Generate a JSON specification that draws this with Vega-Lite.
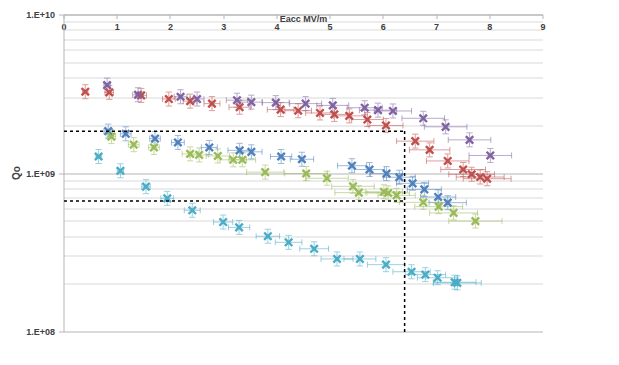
{
  "$schema": "https://vega.github.io/schema/vega-lite/v6.json",
  "width": 479,
  "height": 317,
  "autosize": {"type": "none"},
  "padding": {"left": 64, "top": 15, "right": 76, "bottom": 33},
  "background": "white",
  "config": {
    "view": {"stroke": null},
    "font": "Liberation Sans",
    "axis": {"labelFont": "Liberation Sans", "titleFont": "Liberation Sans", "labelColor": "#404040", "titleColor": "#404040", "domainColor": "#b5b5b5", "tickColor": "#b5b5b5"}
  },
  "datasets": {
    "pts": [
      {"s":"Bake 4K","x":0.83,"q":1.85e9,"xl":0.75,"xh":0.91},
      {"s":"Bake 4K","x":1.16,"q":1.78e9,"xl":1.06,"xh":1.26},
      {"s":"Bake 4K","x":1.71,"q":1.66e9,"xl":1.61,"xh":1.81},
      {"s":"Bake 4K","x":2.14,"q":1.57e9,"xl":2.02,"xh":2.26},
      {"s":"Bake 4K","x":2.73,"q":1.46e9,"xl":2.58,"xh":2.88},
      {"s":"Bake 4K","x":3.30,"q":1.40e9,"xl":3.08,"xh":3.52},
      {"s":"Bake 4K","x":3.52,"q":1.37e9,"xl":3.32,"xh":3.72},
      {"s":"Bake 4K","x":4.08,"q":1.28e9,"xl":3.88,"xh":4.28},
      {"s":"Bake 4K","x":4.47,"q":1.23e9,"xl":4.25,"xh":4.69},
      {"s":"Bake 4K","x":5.41,"q":1.12e9,"xl":5.14,"xh":5.68},
      {"s":"Bake 4K","x":5.74,"q":1.06e9,"xl":5.46,"xh":6.02},
      {"s":"Bake 4K","x":6.06,"q":9.98e8,"xl":5.76,"xh":6.36},
      {"s":"Bake 4K","x":6.30,"q":9.47e8,"xl":6.00,"xh":6.60},
      {"s":"Bake 4K","x":6.55,"q":8.67e8,"xl":6.25,"xh":6.85},
      {"s":"Bake 4K","x":6.77,"q":7.94e8,"xl":6.45,"xh":7.09},
      {"s":"Bake 4K","x":7.03,"q":7.11e8,"xl":6.70,"xh":7.36},
      {"s":"Bake 4K","x":7.21,"q":6.55e8,"xl":6.86,"xh":7.56},
      {"s":"Bake 2K","x":0.40,"q":3.28e9,"xl":0.35,"xh":0.45},
      {"s":"Bake 2K","x":0.85,"q":3.25e9,"xl":0.77,"xh":0.93},
      {"s":"Bake 2K","x":1.45,"q":3.11e9,"xl":1.35,"xh":1.55},
      {"s":"Bake 2K","x":1.97,"q":2.95e9,"xl":1.85,"xh":2.09},
      {"s":"Bake 2K","x":2.37,"q":2.86e9,"xl":2.24,"xh":2.50},
      {"s":"Bake 2K","x":2.78,"q":2.76e9,"xl":2.63,"xh":2.93},
      {"s":"Bake 2K","x":3.30,"q":2.62e9,"xl":3.10,"xh":3.50},
      {"s":"Bake 2K","x":4.07,"q":2.53e9,"xl":3.82,"xh":4.32},
      {"s":"Bake 2K","x":4.40,"q":2.49e9,"xl":4.15,"xh":4.65},
      {"s":"Bake 2K","x":4.81,"q":2.41e9,"xl":4.54,"xh":5.08},
      {"s":"Bake 2K","x":5.08,"q":2.36e9,"xl":4.80,"xh":5.36},
      {"s":"Bake 2K","x":5.36,"q":2.31e9,"xl":5.06,"xh":5.66},
      {"s":"Bake 2K","x":5.70,"q":2.19e9,"xl":5.40,"xh":6.00},
      {"s":"Bake 2K","x":6.05,"q":2.01e9,"xl":5.73,"xh":6.37},
      {"s":"Bake 2K","x":6.60,"q":1.60e9,"xl":6.25,"xh":6.95},
      {"s":"Bake 2K","x":6.87,"q":1.41e9,"xl":6.49,"xh":7.25},
      {"s":"Bake 2K","x":7.21,"q":1.20e9,"xl":6.81,"xh":7.61},
      {"s":"Bake 2K","x":7.50,"q":1.06e9,"xl":7.08,"xh":7.92},
      {"s":"Bake 2K","x":7.66,"q":9.89e8,"xl":7.23,"xh":8.09},
      {"s":"Bake 2K","x":7.82,"q":9.50e8,"xl":7.37,"xh":8.27},
      {"s":"Bake 2K","x":7.95,"q":9.27e8,"xl":7.50,"xh":8.40},
      {"s":"Initial 4K","x":0.89,"q":1.71e9,"xl":0.81,"xh":0.97},
      {"s":"Initial 4K","x":1.31,"q":1.52e9,"xl":1.21,"xh":1.41},
      {"s":"Initial 4K","x":1.69,"q":1.46e9,"xl":1.59,"xh":1.79},
      {"s":"Initial 4K","x":2.37,"q":1.33e9,"xl":2.22,"xh":2.52},
      {"s":"Initial 4K","x":2.54,"q":1.31e9,"xl":2.36,"xh":2.72},
      {"s":"Initial 4K","x":2.89,"q":1.29e9,"xl":2.67,"xh":3.11},
      {"s":"Initial 4K","x":3.18,"q":1.22e9,"xl":2.93,"xh":3.43},
      {"s":"Initial 4K","x":3.35,"q":1.22e9,"xl":3.10,"xh":3.60},
      {"s":"Initial 4K","x":3.78,"q":1.02e9,"xl":3.43,"xh":4.13},
      {"s":"Initial 4K","x":4.55,"q":1.00e9,"xl":4.15,"xh":4.95},
      {"s":"Initial 4K","x":4.94,"q":9.33e8,"xl":4.54,"xh":5.34},
      {"s":"Initial 4K","x":5.43,"q":8.30e8,"xl":5.03,"xh":5.83},
      {"s":"Initial 4K","x":5.54,"q":7.57e8,"xl":5.09,"xh":5.99},
      {"s":"Initial 4K","x":6.01,"q":7.67e8,"xl":5.66,"xh":6.36},
      {"s":"Initial 4K","x":6.09,"q":7.54e8,"xl":5.69,"xh":6.49},
      {"s":"Initial 4K","x":6.25,"q":7.28e8,"xl":5.90,"xh":6.60},
      {"s":"Initial 4K","x":6.75,"q":6.58e8,"xl":6.30,"xh":7.20},
      {"s":"Initial 4K","x":7.04,"q":6.18e8,"xl":6.59,"xh":7.49},
      {"s":"Initial 4K","x":7.32,"q":5.64e8,"xl":6.87,"xh":7.77},
      {"s":"Initial 4K","x":7.73,"q":5.01e8,"xl":7.23,"xh":8.23},
      {"s":"Initial 2K","x":0.81,"q":3.61e9,"xl":0.75,"xh":0.87},
      {"s":"Initial 2K","x":1.39,"q":3.14e9,"xl":1.29,"xh":1.49},
      {"s":"Initial 2K","x":2.19,"q":3.05e9,"xl":2.07,"xh":2.31},
      {"s":"Initial 2K","x":2.50,"q":2.95e9,"xl":2.37,"xh":2.63},
      {"s":"Initial 2K","x":3.25,"q":2.90e9,"xl":3.05,"xh":3.45},
      {"s":"Initial 2K","x":3.52,"q":2.82e9,"xl":3.32,"xh":3.72},
      {"s":"Initial 2K","x":3.98,"q":2.80e9,"xl":3.73,"xh":4.23},
      {"s":"Initial 2K","x":4.54,"q":2.76e9,"xl":4.24,"xh":4.84},
      {"s":"Initial 2K","x":5.05,"q":2.69e9,"xl":4.75,"xh":5.35},
      {"s":"Initial 2K","x":5.65,"q":2.60e9,"xl":5.32,"xh":5.98},
      {"s":"Initial 2K","x":5.90,"q":2.51e9,"xl":5.55,"xh":6.25},
      {"s":"Initial 2K","x":6.18,"q":2.48e9,"xl":5.83,"xh":6.53},
      {"s":"Initial 2K","x":6.75,"q":2.23e9,"xl":6.35,"xh":7.15},
      {"s":"Initial 2K","x":7.17,"q":1.97e9,"xl":6.77,"xh":7.57},
      {"s":"Initial 2K","x":7.62,"q":1.63e9,"xl":7.22,"xh":8.02},
      {"s":"Initial 2K","x":8.01,"q":1.30e9,"xl":7.61,"xh":8.41},
      {"s":"100K Soak","x":0.65,"q":1.28e9,"xl":0.60,"xh":0.70},
      {"s":"100K Soak","x":1.06,"q":1.04e9,"xl":1.00,"xh":1.12},
      {"s":"100K Soak","x":1.54,"q":8.26e8,"xl":1.46,"xh":1.62},
      {"s":"100K Soak","x":1.94,"q":6.97e8,"xl":1.82,"xh":2.06},
      {"s":"100K Soak","x":2.41,"q":5.86e8,"xl":2.26,"xh":2.56},
      {"s":"100K Soak","x":2.99,"q":4.94e8,"xl":2.81,"xh":3.17},
      {"s":"100K Soak","x":3.29,"q":4.57e8,"xl":3.09,"xh":3.49},
      {"s":"100K Soak","x":3.83,"q":4.02e8,"xl":3.61,"xh":4.05},
      {"s":"100K Soak","x":4.22,"q":3.68e8,"xl":3.97,"xh":4.47},
      {"s":"100K Soak","x":4.70,"q":3.35e8,"xl":4.43,"xh":4.97},
      {"s":"100K Soak","x":5.13,"q":2.89e8,"xl":4.83,"xh":5.43},
      {"s":"100K Soak","x":5.56,"q":2.89e8,"xl":5.26,"xh":5.86},
      {"s":"100K Soak","x":6.05,"q":2.66e8,"xl":5.70,"xh":6.40},
      {"s":"100K Soak","x":6.53,"q":2.40e8,"xl":6.18,"xh":6.88},
      {"s":"100K Soak","x":6.79,"q":2.30e8,"xl":6.41,"xh":7.17},
      {"s":"100K Soak","x":7.02,"q":2.20e8,"xl":6.64,"xh":7.40},
      {"s":"100K Soak","x":7.34,"q":2.06e8,"xl":6.94,"xh":7.74},
      {"s":"100K Soak","x":7.39,"q":2.04e8,"xl":6.94,"xh":7.84}
    ],
    "hLines": [
      {"xa":0,"xb":6.4,"q":1.85e9},
      {"xa":0,"xb":6.4,"q":6.7e8}
    ],
    "vLine": [{"x":6.4,"q":4.31e8}],
    "starPt": [{"x":6.4,"q":1.85e9}],
    "dotPt": [{"x":6.4,"q":6.7e8}]
  },
  "layer": [
    {
      "data": {"name": "pts"},
      "mark": {"type": "rule", "strokeWidth": 1, "opacity": 0.55},
      "encoding": {
        "x": {"field": "xl", "type": "quantitative", "scale": {"domain": [0, 9], "nice": false}, "axis": {"orient": "bottom", "values": [0,1,2,3,4,5,6,7,8,9], "grid": false, "title": "Eacc MV/m", "labelFontSize": 9, "labelFontWeight": "bold", "titleFontSize": 9, "titleFontWeight": "bold", "tickSize": 4, "labelPadding": 4, "titlePadding": 5, "labelFlush": false}},
        "x2": {"field": "xh"},
        "y": {"field": "q", "type": "quantitative", "scale": {"type": "log", "domain": [1e8, 1e10], "nice": false}, "axis": {
          "orient": "left",
          "values": [1e8,2e8,3e8,4e8,5e8,6e8,7e8,8e8,9e8,1e9,2e9,3e9,4e9,5e9,6e9,7e9,8e9,9e9,1e10],
          "labelExpr": "datum.value == 1e8 ? '1.E+08' : datum.value == 1e9 ? '1.E+09' : datum.value == 1e10 ? '1.E+10' : ''",
          "title": "Qo", "titleFontSize": 10, "titleFontWeight": "bold", "labelFontSize": 9, "labelFontWeight": "bold", "labelPadding": 4, "tickSize": 5,
          "titleAngle": -90, "titleX": -47, "titleY": 158, "titleAlign": "center", "titleBaseline": "middle",
          "grid": true,
          "gridColor": {"condition": {"test": "datum.value == 1e8 || datum.value == 1e9 || datum.value == 1e10", "value": "#b5b5b5"}, "value": "#d9d9d9"},
          "tickOpacity": {"condition": {"test": "datum.value == 1e8 || datum.value == 1e9 || datum.value == 1e10", "value": 1}, "value": 0}
        }},
        "color": {"field": "s", "type": "nominal",
          "scale": {"domain": ["Bake 4K","Bake 2K","Initial 4K","Initial 2K","100K Soak"], "range": ["#4f81bd","#c0504d","#9bbb59","#8064a2","#4bacc6"]},
          "legend": {"title": " ", "titleFontSize": 10, "titlePadding": 122, "offset": 14,
            "symbolType": "M-1,-1L1,1M-1,1L1,-1", "symbolSize": 36, "symbolStrokeWidth": 1.3,
            "labelFontSize": 9, "labelFontWeight": "bold", "labelColor": "#404040", "labelFont": "Liberation Sans", "labelOffset": 3, "rowPadding": 8}}
      }
    },
    {
      "data": {"name": "pts"},
      "mark": {"type": "point", "shape": "M0,-1L0,1M-0.45,-1L0.45,-1M-0.45,1L0.45,1", "filled": false, "size": 196, "strokeWidth": 1, "opacity": 0.55},
      "encoding": {
        "x": {"field": "x", "type": "quantitative"},
        "y": {"field": "q", "type": "quantitative"},
        "color": {"field": "s", "type": "nominal"}
      }
    },
    {
      "data": {"name": "pts"},
      "mark": {"type": "point", "shape": "M0,-1L0,1", "filled": false, "size": 36, "strokeWidth": 1, "opacity": 0.55},
      "encoding": {
        "x": {"field": "xl", "type": "quantitative"},
        "y": {"field": "q", "type": "quantitative"},
        "color": {"field": "s", "type": "nominal"}
      }
    },
    {
      "data": {"name": "pts"},
      "mark": {"type": "point", "shape": "M0,-1L0,1", "filled": false, "size": 36, "strokeWidth": 1, "opacity": 0.55},
      "encoding": {
        "x": {"field": "xh", "type": "quantitative"},
        "y": {"field": "q", "type": "quantitative"},
        "color": {"field": "s", "type": "nominal"}
      }
    },
    {
      "data": {"name": "pts"},
      "mark": {"type": "point", "shape": "M-1,-1L1,1M-1,1L1,-1", "filled": false, "size": 55, "strokeWidth": 2.4, "opacity": 1},
      "encoding": {
        "x": {"field": "x", "type": "quantitative"},
        "y": {"field": "q", "type": "quantitative"},
        "color": {"field": "s", "type": "nominal"}
      }
    },
    {
      "data": {"name": "hLines"},
      "mark": {"type": "rule", "color": "black", "strokeWidth": 1.5, "strokeDash": [3, 3]},
      "encoding": {
        "x": {"field": "xa", "type": "quantitative"},
        "x2": {"field": "xb"},
        "y": {"field": "q", "type": "quantitative"}
      }
    },
    {
      "data": {"name": "vLine"},
      "mark": {"type": "point", "shape": "M0,-1L0,1", "filled": false, "size": 40401, "color": "black", "strokeWidth": 1.5, "strokeDash": [3, 3], "opacity": 1},
      "encoding": {
        "x": {"field": "x", "type": "quantitative"},
        "y": {"field": "q", "type": "quantitative"}
      }
    },
    {
      "data": {"name": "starPt"},
      "mark": {"type": "point", "shape": "star", "filled": true, "size": 300, "color": "#ffff00", "stroke": "#404040", "strokeWidth": 1, "opacity": 1},
      "encoding": {
        "x": {"field": "x", "type": "quantitative"},
        "y": {"field": "q", "type": "quantitative"}
      }
    },
    {
      "data": {"name": "dotPt"},
      "mark": {"type": "point", "shape": "circle", "filled": true, "size": 90, "color": "#5b6d85", "stroke": "#1f2a38", "strokeWidth": 1, "opacity": 1},
      "encoding": {
        "x": {"field": "x", "type": "quantitative"},
        "y": {"field": "q", "type": "quantitative"}
      }
    }
  ]
}
